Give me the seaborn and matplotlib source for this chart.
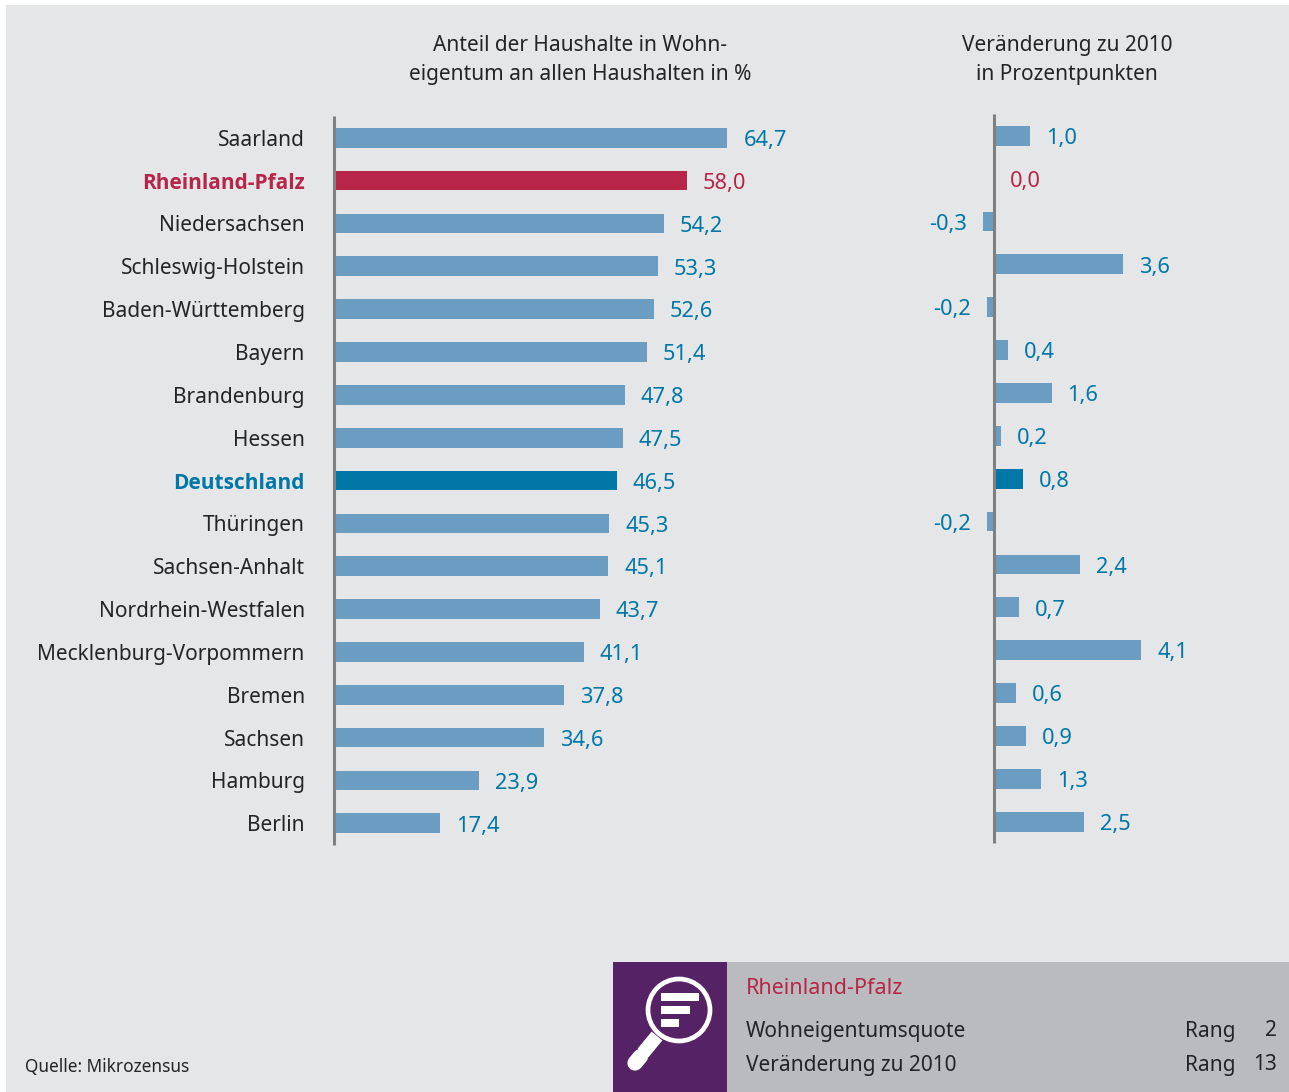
import matplotlib
matplotlib.use("Agg")
import matplotlib.pyplot as plt
from matplotlib.patches import Rectangle, Circle
import seaborn as sns

W, H = 1289, 1092

laender = ["Saarland", "Rheinland-Pfalz", "Niedersachsen", "Schleswig-Holstein",
           "Baden-Württemberg", "Bayern", "Brandenburg", "Hessen", "Deutschland",
           "Thüringen", "Sachsen-Anhalt", "Nordrhein-Westfalen",
           "Mecklenburg-Vorpommern", "Bremen", "Sachsen", "Hamburg", "Berlin"]
anteil = [64.7, 58.0, 54.2, 53.3, 52.6, 51.4, 47.8, 47.5, 46.5,
          45.3, 45.1, 43.7, 41.1, 37.8, 34.6, 23.9, 17.4]
veraenderung = [1.0, 0.0, -0.3, 3.6, -0.2, 0.4, 1.6, 0.2, 0.8,
                -0.2, 2.4, 0.7, 4.1, 0.6, 0.9, 1.3, 2.5]

BG = "#E5E6E8"
BAR = "#6B9DC2"
BLUE = "#0077A6"
RED = "#B72649"
DARK = "#222426"
PURPLE = "#552266"
PANEL = "#BABBBE"
FS = 15.0
FS_WERT = 15.7

sns.set_theme(style="white")
plt.rcParams["font.family"] = ["Noto Sans", "DejaVu Sans"]


def bar_color(name):
    return {"Rheinland-Pfalz": RED, "Deutschland": BLUE}.get(name, BAR)


def text_color(name, default):
    return {"Rheinland-Pfalz": RED, "Deutschland": BLUE}.get(name, default)


def fmt(v):
    return f"{v:.1f}".replace(".", ",")


def panel_axes(x0, x1, y0, y1):
    # Achsen in Pixelkoordinaten des Bildes anlegen
    return fig.add_axes([x0 / W, 1 - y1 / H, (x1 - x0) / W, (y1 - y0) / H])


def draw_bars(ax, values, pad, ylim):
    sns.barplot(x=values, y=laender, hue=laender,
                palette=[bar_color(n) for n in laender],
                legend=False, width=0.46, saturation=1, linewidth=0, ax=ax)
    for cont, name, v in zip(ax.containers, laender, values):
        labels = ax.bar_label(cont, labels=[fmt(v)], padding=pad, fontsize=FS_WERT,
                              color=RED if name == "Rheinland-Pfalz" else BLUE)
        # Werte stehen etwas tiefer als die Balkenmitte
        for lab in labels:
            lab.xyann = (lab.xyann[0], lab.xyann[1] - 2.0)
    ax.set_ylim(*ylim)
    ax.patch.set_alpha(0)
    ax.set_xlabel("")
    ax.set_ylabel("")
    ax.set_xticks([])
    for s in ["top", "right", "bottom"]:
        ax.spines[s].set_visible(False)
    ax.spines["left"].set_color("#808080")
    ax.spines["left"].set_linewidth(2.2)
    ax.spines["left"].set_capstyle("butt")


fig = plt.figure(figsize=(W / 100, H / 100), dpi=100, facecolor="white")

# Hintergrund und Infokasten, Koordinaten in Pixeln
deko = fig.add_axes([0, 0, 1, 1])
deko.set_xlim(0, W)
deko.set_ylim(H, 0)
deko.axis("off")
deko.add_patch(Rectangle((6, 5), W - 6, H - 5, color=BG, lw=0))
deko.add_patch(Rectangle((613, 962), 114, 130, color=PURPLE, lw=0))
deko.add_patch(Rectangle((727, 962), W - 727, 130, color=PANEL, lw=0))

# Lupe
deko.add_patch(Circle((679, 1010), 31, fc="none", ec="white", lw=3.4))
deko.add_patch(Rectangle((661, 993), 38, 8, color="white", lw=0))
deko.add_patch(Rectangle((661, 1006), 29, 8, color="white", lw=0))
deko.add_patch(Rectangle((661, 1019), 18, 8, color="white", lw=0))
deko.plot([657, 643], [1036, 1053], color="white", lw=10, solid_capstyle="butt")
deko.plot([640.5, 635], [1056.5, 1063], color="white", lw=11, solid_capstyle="round")

# linke Grafik
ax1 = panel_axes(334, 334 + 70 * 6.08, 116, 845)
draw_bars(ax1, anteil, 11.5, (16.508, -0.509))
ax1.set_xlim(0, 70)
ax1.tick_params(axis="y", length=0, pad=21, labelsize=FS)
for tick, name in zip(ax1.get_yticklabels(), laender):
    tick.set_color(text_color(name, DARK))
    if name in ("Rheinland-Pfalz", "Deutschland"):
        tick.set_family(["Open Sans", "DejaVu Sans"])
        tick.set_fontweight("bold")

# rechte Grafik
ax2 = panel_axes(994 - 1.5 * 35.95, 994 + 6 * 35.95, 114, 843)
draw_bars(ax2, veraenderung, 11.5, (16.497, -0.506))
ax2.set_xlim(-1.5, 6)
ax2.spines["left"].set_position(("data", 0))
ax2.tick_params(axis="y", length=0, labelleft=False)

# Titel
deko.text(580, 60, "Anteil der Haushalte in Wohn-\neigentum an allen Haushalten in %",
          ha="center", va="center", fontsize=FS, color=DARK, linespacing=1.55)
deko.text(1067, 60, "Veränderung zu 2010\nin Prozentpunkten",
          ha="center", va="center", fontsize=FS, color=DARK, linespacing=1.55)

deko.text(25, 1067, "Quelle: Mikrozensus", ha="left", va="center", fontsize=12.4, color=DARK)

deko.text(746, 989, "Rheinland-Pfalz", ha="left", va="center", fontsize=15.5, color=RED)
deko.text(746, 1031, "Wohneigentumsquote", ha="left", va="center", fontsize=FS, color=DARK)
deko.text(746, 1065, "Veränderung zu 2010", ha="left", va="center", fontsize=FS, color=DARK)
deko.text(1185, 1031, "Rang", ha="left", va="center", fontsize=FS, color=DARK)
deko.text(1185, 1065, "Rang", ha="left", va="center", fontsize=FS, color=DARK)
deko.text(1277, 1031, "2", ha="right", va="center", fontsize=FS, color=DARK)
deko.text(1277, 1065, "13", ha="right", va="center", fontsize=FS, color=DARK)

fig.savefig("out.png", dpi=100)
